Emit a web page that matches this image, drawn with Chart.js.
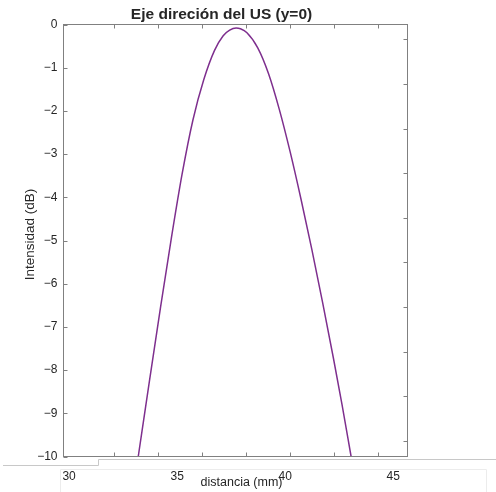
<!DOCTYPE html>
<html>
<head>
<meta charset="utf-8">
<script src="https://cdn.jsdelivr.net/npm/chart.js@4.4.1/dist/chart.umd.min.js"></script>
<style>
  html, body { margin: 0; padding: 0; background: #fff; }
  #grafico { display: block; }
</style>
</head>
<body>
<canvas id="grafico" width="496" height="492"></canvas>
<script>
// Datos
const distancia = [33.20, 33.73, 34.23, 34.73, 35.23, 35.73, 36.23, 36.73, 37.13, 37.43, 37.73,
                   37.93, 38.23, 38.73, 39.23, 39.73, 40.23, 40.73, 41.23, 41.73, 42.23, 42.63, 43.05];
const intensidad = [-10, -8.21, -6.55, -4.95, -3.46, -2.21, -1.28, -0.60, -0.26, -0.13, -0.08,
                    -0.10, -0.19, -0.54, -1.14, -1.97, -2.95, -4.04, -5.20, -6.43, -7.72, -8.80, -10];
const ticksX = [30, 35, 40, 45];
const ticksY = [0, -1, -2, -3, -4, -5, -6, -7, -8, -9, -10];
// marcas del eje original (no coinciden con las etiquetas pegadas debajo)
const marcasX = [0, 1, 2, 3, 4, 5, 6];
const marcasYder = [0, -1, -2, -3, -4, -5, -6, -7, -8, -9];

const titulo = 'Eje direción del US (y=0)';
const etiquetaX = 'distancia (mm)';
const etiquetaY = 'Intensidad (dB)';

const fuente = "'Liberation Sans', Arial, Helvetica, sans-serif";
const colorTexto = '#262626';
const colorEje = '#808080';

// Dibuja la caja estilo MATLAB, las marcas hacia dentro y los textos
const marcoMatlab = {
  id: 'marcoMatlab',
  beforeDraw(chart) {
    const ctx = chart.ctx;
    const a = chart.chartArea;
    ctx.save();
    // franja del eje pegado
    ctx.strokeStyle = '#c8c8c8';
    ctx.lineWidth = 1;
    ctx.beginPath();
    ctx.moveTo(3, a.bottom + 9);
    ctx.lineTo(98.5, a.bottom + 9);
    ctx.lineTo(98.5, a.bottom + 3);
    ctx.lineTo(chart.width, a.bottom + 3);
    ctx.stroke();
    ctx.strokeStyle = '#ececec';
    ctx.beginPath();
    ctx.moveTo(60.5, chart.height);
    ctx.lineTo(60.5, a.bottom + 13);
    ctx.lineTo(486.5, a.bottom + 13);
    ctx.lineTo(486.5, chart.height);
    ctx.stroke();
    ctx.restore();
  },
  afterDraw(chart) {
    const ctx = chart.ctx;
    const a = chart.chartArea;
    const x2 = chart.scales.x2;
    const y = chart.scales.y;
    const y2 = chart.scales.y2;
    const lt = 4;
    ctx.save();
    ctx.strokeStyle = colorEje;
    ctx.lineWidth = 1;
    ctx.strokeRect(a.left, a.top, a.right - a.left, a.bottom - a.top);
    ctx.beginPath();
    marcasX.forEach(v => {
      const px = Math.round(x2.getPixelForValue(v)) + 0.5;
      ctx.moveTo(px, a.bottom); ctx.lineTo(px, a.bottom - lt);
      ctx.moveTo(px, a.top); ctx.lineTo(px, a.top + lt);
    });
    y.ticks.forEach(t => {
      const py = Math.round(y.getPixelForValue(t.value)) + 0.5;
      ctx.moveTo(a.left, py); ctx.lineTo(a.left + lt, py);
    });
    marcasYder.forEach(v => {
      const py = Math.round(y2.getPixelForValue(v)) + 0.5;
      ctx.moveTo(a.right, py); ctx.lineTo(a.right - lt, py);
    });
    ctx.stroke();

    ctx.fillStyle = colorTexto;
    ctx.textAlign = 'center';
    ctx.textBaseline = 'alphabetic';
    ctx.font = 'bold 15.5px ' + fuente;
    ctx.fillText(titulo, 221.5, 18.5);
    ctx.font = '12.5px ' + fuente;
    ctx.fillText(etiquetaX, 241.5, 485.5);
    ctx.translate(30, 234.5);
    ctx.rotate(-Math.PI / 2);
    ctx.textBaseline = 'middle';
    ctx.font = '13.5px ' + fuente;
    ctx.fillText(etiquetaY, 0, 0);
    ctx.restore();
  }
};

const ctx = document.getElementById('grafico').getContext('2d');
new Chart(ctx, {
  type: 'line',
  data: {
    datasets: [{
      label: etiquetaY,
      data: distancia.map((x, i) => ({ x: x, y: intensidad[i] })),
      borderColor: '#7E2F8E',
      borderWidth: 1.5,
      pointRadius: 0,
      fill: false,
      cubicInterpolationMode: 'monotone'
    }]
  },
  options: {
    responsive: false,
    devicePixelRatio: 1,
    animation: false,
    layout: { padding: { top: 24.5, right: 88.5, left: 0, bottom: 0 } },
    plugins: {
      legend: { display: false },
      title: { display: false },
      tooltip: { enabled: false }
    },
    scales: {
      x: {
        type: 'linear',
        position: 'bottom',
        min: 29.74,
        max: 45.66,
        grid: { display: false, drawTicks: false },
        border: { display: false },
        afterFit: s => { s.height = 35.5; },
        afterBuildTicks: s => { s.ticks = ticksX.map(v => ({ value: v })); },
        ticks: {
          padding: 13,
          maxRotation: 0,
          autoSkip: false,
          color: colorTexto,
          font: { family: fuente, size: 12 }
        }
      },
      y: {
        type: 'linear',
        position: 'left',
        min: -10,
        max: 0,
        grid: { display: false, drawTicks: false },
        border: { display: false },
        afterFit: s => { s.width = 63.5; },
        afterBuildTicks: s => { s.ticks = ticksY.map(v => ({ value: v })); },
        ticks: {
          padding: 6,
          autoSkip: false,
          color: colorTexto,
          font: { family: fuente, size: 12 },
          callback: v => String(v).replace('-', '\u2212')
        }
      },
      x2: {
        type: 'linear',
        display: false,
        min: -1.148,
        max: 6.670
      },
      y2: {
        type: 'linear',
        display: false,
        min: -9.354,
        max: 0.332
      }
    }
  },
  plugins: [marcoMatlab]
});
</script>
</body>
</html>
